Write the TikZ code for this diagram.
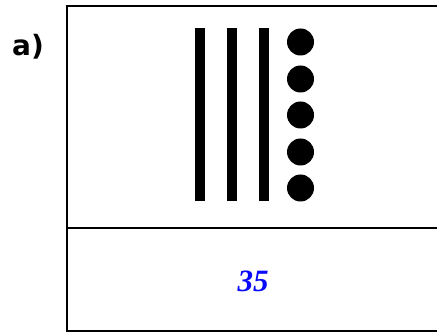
\documentclass[tikz,border=0pt]{standalone}
\usepackage{fontspec}
\setmainfont{Liberation Serif}
\newfontfamily\tagfont{DejaVu Sans}
\usepackage{xcolor}
\usetikzlibrary{positioning}
\definecolor{numcol}{RGB}{10,10,250}

\begin{document}
\begin{tikzpicture}[
  x=1pt, y=-1pt,
  frame/.style={draw, line width=2.6pt},
  bar/.style={fill=black},
  bead/.style={circle, fill=black, inner sep=0pt, minimum size=27pt},
  num/.style={font=\bfseries\itshape\fontsize{31}{32}\selectfont, text=numcol},
  tag/.style={font=\tagfont\bfseries\fontsize{28}{30}\selectfont},
]
\useasboundingbox (0,0) rectangle (437,334);
% the table
\draw[frame] (67,6) rectangle (445,331);
\draw[frame] (67,228) -- (445,228);
% tens and units
\foreach \x in {195,227,259} \fill[bar] (\x,28) rectangle ++(10,173);
\foreach \y [count=\i] in {42,79,115,152,188}
  \node[bead] (u\i) at (300.5,\y) {};
\node[tag] (lbl) at (28,47) {a)};
\node[num] (val) at (253,281) {35};
\end{tikzpicture}
\end{document}
